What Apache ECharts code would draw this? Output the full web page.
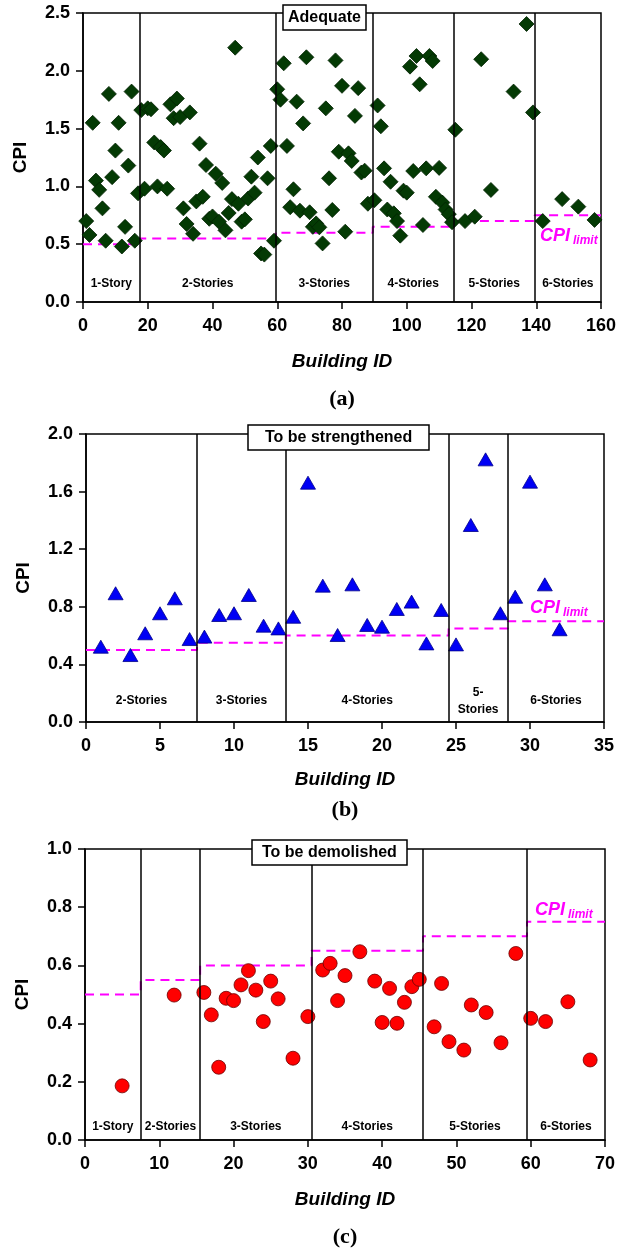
<!DOCTYPE html>
<html>
<head>
<meta charset="utf-8">
<script src="https://cdn.jsdelivr.net/npm/echarts@6/dist/echarts.min.js"></script>
<style>
  html, body { margin: 0; padding: 0; background: #fff; }
  #chart { width: 627px; height: 1249px; }
</style>
</head>
<body>
<div id="chart"></div>
<script>
// ---------- (a) Adequate ----------
const adequateIds = [
  1,2,3,4,5,6,7,8,9,10,11,12,13,14,15,16,17,
  18,19,20,21,22,23,24,25,26,27,28,29,30,31,32,33,34,35,36,37,38,39,40,41,42,43,44,45,46,47,48,49,50,51,52,53,54,55,56,57,58,59,
  60,61,62,63,64,65,66,67,68,69,70,71,72,73,74,75,76,77,78,79,80,81,82,83,84,85,86,87,88,
  90,91,92,93,94,95,96,97,98,99,100,101,102,103,104,105,106,107,108,109,110,111,112,113,114,
  115,118,121,123,126,133,137,139,
  142,148,153,158
];
const adequateCPI = [
  0.70,0.58,1.55,1.05,0.97,0.81,0.53,1.80,1.08,1.31,1.55,0.48,0.65,1.18,1.82,0.53,0.94,
  1.66,0.98,1.675,1.667,1.38,1.00,1.34,1.31,0.98,1.71,1.59,1.76,1.60,0.81,0.675,1.64,0.59,0.87,1.37,0.91,1.185,0.72,0.74,1.11,0.695,1.03,0.62,0.77,0.89,2.20,0.85,0.695,0.715,0.895,1.084,0.946,1.25,0.42,0.41,1.07,1.35,0.53,
  1.84,1.75,2.065,1.35,0.82,0.975,1.733,0.79,1.545,2.117,0.776,0.65,0.68,0.646,0.507,1.675,1.07,0.796,2.09,1.30,1.87,0.608,1.286,1.22,1.61,1.85,1.12,1.136,0.85,
  0.88,1.70,1.52,1.156,0.80,1.04,0.767,0.70,0.574,0.963,0.946,2.036,1.133,2.128,1.883,0.666,1.156,2.128,2.085,0.91,1.16,0.86,0.80,0.76,0.69,
  1.49,0.70,0.738,2.10,0.969,1.82,2.405,1.64,
  0.70,0.89,0.825,0.71
];
const adequateBounds = [0, 17.5, 59.5, 89.5, 114.5, 139.5, 160];
const adequateLimits = [0.5, 0.55, 0.6, 0.65, 0.7, 0.75];
const adequateGroups = ['1-Story', '2-Stories', '3-Stories', '4-Stories', '5-Stories', '6-Stories'];

// ---------- (b) To be strengthened ----------
const strengthenIds = [1,2,3,4,5,6,7,8,9,10,11,12,13,14,15,16,17,18,19,20,21,22,23,24,25,26,27,28,29,30,31,32];
const strengthenCPI = [
  0.523,0.894,0.465,0.616,0.755,0.859,0.576,0.593,0.743,0.755,0.882,0.669,0.650,0.731,1.662,0.947,
  0.604,0.956,0.674,0.662,0.785,0.836,0.546,0.778,0.539,1.368,1.824,0.755,0.870,1.669,0.956,0.644
];
const strengthenBounds = [0, 7.5, 13.5, 24.5, 28.5, 35];
const strengthenLimits = [0.5, 0.55, 0.6, 0.65, 0.7];
const strengthenGroups = ['2-Stories', '3-Stories', '4-Stories', '5-\nStories', '6-Stories'];

// ---------- (c) To be demolished ----------
const demolishIds = [5,12,16,17,18,19,20,21,22,23,24,25,26,28,30,32,33,34,35,37,39,40,41,42,43,44,45,47,48,49,51,52,54,56,58,60,62,65,68];
const demolishCPI = [
  0.186,0.498,0.507,0.430,0.250,0.487,0.479,0.533,0.582,0.515,0.407,0.546,0.485,0.281,0.424,
  0.584,0.607,0.479,0.565,0.647,0.546,0.404,0.521,0.401,0.473,0.527,0.552,
  0.389,0.538,0.338,0.309,0.464,0.438,0.334,0.641,
  0.418,0.407,0.475,0.275
];
const demolishBounds = [0, 7.5, 15.5, 30.5, 45.5, 59.5, 70];
const demolishLimits = [0.5, 0.55, 0.6, 0.65, 0.7, 0.75];
const demolishGroups = ['1-Story', '2-Stories', '3-Stories', '4-Stories', '5-Stories', '6-Stories'];

// ---------- axis ranges / titles ----------
const xRanges = [[0, 160, 20], [0, 35, 5], [0, 70, 10]];
const yRanges = [[0, 2.5, 0.5], [0, 2.0, 0.4], [0, 1.0, 0.2]];
const panelTitles = ['Adequate', 'To be strengthened', 'To be demolished'];
const captions = ['(a)', '(b)', '(c)'];

const SANS = "'Liberation Sans', Arial, Helvetica, sans-serif";
const SERIF = "'Liberation Serif', 'Times New Roman', serif";
const MAGENTA = '#ff00ff';

const panels = [
  { ids: adequateIds, cpi: adequateCPI, bounds: adequateBounds, limits: adequateLimits, groups: adequateGroups,
    symbol: 'diamond', size: [15, 15], color: '#043a04', border: '#022202' },
  { ids: strengthenIds, cpi: strengthenCPI, bounds: strengthenBounds, limits: strengthenLimits, groups: strengthenGroups,
    symbol: 'triangle', size: [15, 13], color: '#0000f5', border: '#00008a' },
  { ids: demolishIds, cpi: demolishCPI, bounds: demolishBounds, limits: demolishLimits, groups: demolishGroups,
    symbol: 'circle', size: 14, color: '#ff0000', border: '#6a0000' }
];

const grids = [
  { left: 83, top: 13, width: 518, height: 289 },
  { left: 86, top: 434, width: 518, height: 288 },
  { left: 85, top: 849, width: 520, height: 291 }
];

const axisLineStyle = { color: '#000', width: 1.5 };

const chart = echarts.init(document.getElementById('chart'), null, { renderer: 'canvas' });

const nameGaps = [50, 48, 50];
const xAxes = xRanges.map((r, g) => ({
  type: 'value', gridIndex: g, min: r[0], max: r[1], interval: r[2],
  name: 'Building ID', nameLocation: 'middle', nameGap: nameGaps[g],
  nameTextStyle: { fontFamily: SANS, fontSize: 19, fontWeight: 'bold', fontStyle: 'italic', color: '#000' },
  axisLine: { show: true, lineStyle: axisLineStyle },
  axisTick: { show: true, inside: false, length: 7, lineStyle: axisLineStyle },
  axisLabel: { color: '#000', fontFamily: SANS, fontSize: 18, fontWeight: 'bold', margin: 15 },
  splitLine: { show: false }
}));

const yAxes = yRanges.map((r, g) => ({
  type: 'value', gridIndex: g, min: r[0], max: r[1], interval: r[2],
  name: 'CPI', nameLocation: 'middle', nameGap: 53, nameRotate: 90,
  nameTextStyle: { fontFamily: SANS, fontSize: 19, fontWeight: 'bold', color: '#000' },
  axisLine: { show: true, lineStyle: axisLineStyle },
  axisTick: { show: true, inside: false, length: 7, lineStyle: axisLineStyle },
  axisLabel: { color: '#000', fontFamily: SANS, fontSize: 18, fontWeight: 'bold', margin: 13,
               formatter: v => v.toFixed(1) },
  splitLine: { show: false }
}));

const series = [];
panels.forEach((p, g) => {
  // building points
  series.push({
    type: 'scatter', xAxisIndex: g, yAxisIndex: g, clip: false, z: 4,
    symbol: p.symbol, symbolSize: p.size,
    itemStyle: { color: p.color, borderColor: p.border, borderWidth: 0.8, opacity: 1 },
    data: p.ids.map((id, i) => [id, p.cpi[i]])
  });
  // stepped CPI limit per storey group, with group separators
  const steps = [];
  p.limits.forEach((lim, i) => { steps.push([p.bounds[i], lim]); steps.push([p.bounds[i + 1], lim]); });
  series.push({
    type: 'line', xAxisIndex: g, yAxisIndex: g, z: 3, symbol: 'none', silent: true,
    lineStyle: { color: MAGENTA, width: 2, type: [9, 6] },
    data: steps,
    markLine: {
      silent: true, symbol: ['none', 'none'], animation: false,
      label: { show: false },
      lineStyle: { color: '#000', width: 1.5, type: 'solid' },
      data: p.bounds.slice(1, -1).map(b => ({ xAxis: b }))
    }
  });
});

const titleLeft = [283, 248, 252];
const titleTop = [5, 425, 840];
const titlePad = [[4, 5], [4, 17], [4, 10]];

chart.setOption({
  animation: false,
  backgroundColor: '#fff',
  title: panelTitles.map((t, g) => ({
    text: t, left: titleLeft[g], top: titleTop[g], padding: titlePad[g],
    borderColor: '#000', borderWidth: 1.5, backgroundColor: '#fff',
    textStyle: { fontFamily: SANS, fontSize: 16, fontWeight: 'bold', color: '#000', lineHeight: 17 }
  })),
  grid: grids.map(gd => Object.assign({ show: true, borderColor: '#000', borderWidth: 1.5, backgroundColor: 'transparent' }, gd)),
  xAxis: xAxes,
  yAxis: yAxes,
  series: series
});

// ---------- text placed relative to the axes ----------
const groupLabelLift = [18, 21, 13];
const captionDrop = [97, 88, 97];
const graphics = [];
panels.forEach((p, g) => {
  const toPx = (x, y) => chart.convertToPixel({ xAxisIndex: g, yAxisIndex: g }, [x, y]);
  p.groups.forEach((name, i) => {
    const c = toPx((p.bounds[i] + p.bounds[i + 1]) / 2, 0);
    graphics.push({
      type: 'text', x: c[0], y: c[1] - groupLabelLift[g], z: 10,
      style: { text: name, fill: '#000', font: 'bold 12px ' + SANS, textAlign: 'center',
               textVerticalAlign: 'middle', lineHeight: 17 }
    });
  });
  const mid = toPx((xRanges[g][0] + xRanges[g][1]) / 2, 0);
  graphics.push({
    type: 'text', x: mid[0], y: mid[1] + captionDrop[g], z: 10,
    style: { text: captions[g], fill: '#000', font: 'bold 22px ' + SERIF, textAlign: 'center', textVerticalAlign: 'middle' }
  });
});

// CPI limit annotations
const limitLabelPos = [[540, 236], [530, 608], [535, 910]];
limitLabelPos.forEach(pt => {
  graphics.push({
    type: 'text', x: pt[0], y: pt[1], z: 10,
    style: { text: 'CPI', fill: MAGENTA, font: 'italic bold 18px ' + SANS, textAlign: 'left', textVerticalAlign: 'middle' }
  });
  graphics.push({
    type: 'text', x: pt[0] + 33, y: pt[1] + 5, z: 10,
    style: { text: 'limit', fill: MAGENTA, font: 'italic bold 12px ' + SANS, textAlign: 'left', textVerticalAlign: 'middle' }
  });
});

chart.setOption({ graphic: graphics });
</script>
</body>
</html>
